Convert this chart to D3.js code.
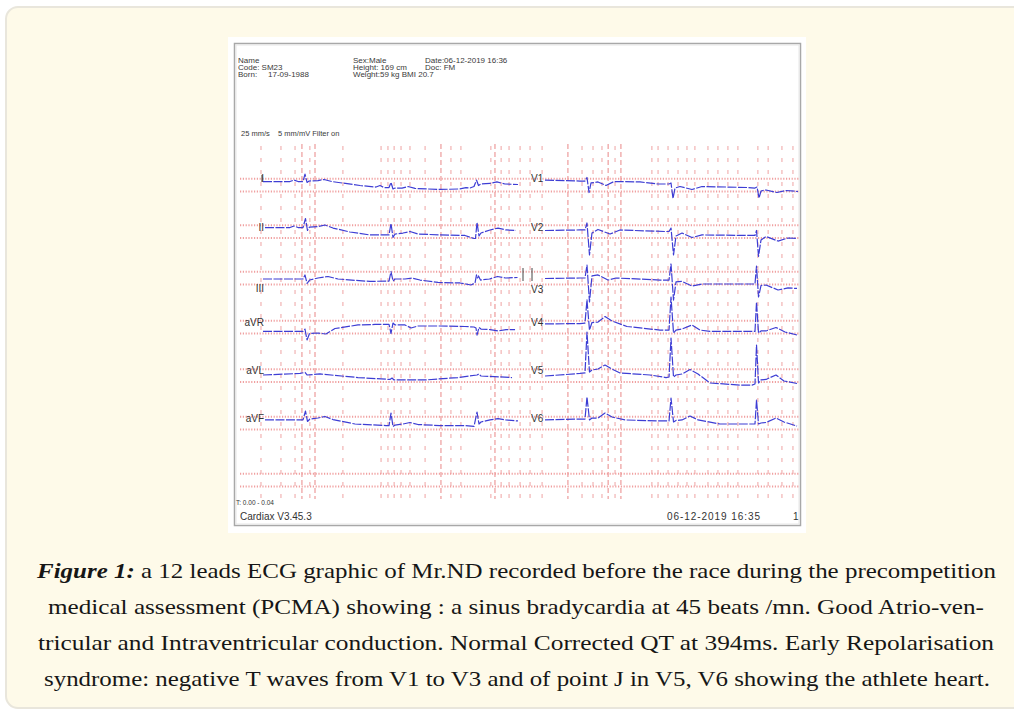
<!DOCTYPE html>
<html><head><meta charset="utf-8">
<script src="https://cdn.jsdelivr.net/npm/d3@7"></script>
<style>html,body{margin:0;padding:0;background:#fff;} svg{display:block;}</style>
</head><body>
<svg id="c" width="1014" height="711"></svg>
<script>
// ================= DATA =================
const leadNames = ["I","II","III","aVR","aVL","aVF","V1","V2","V3","V4","V5","V6"];
// each lead: [time ms, amplitude mV]
const leadI = [[0,0.27],[422,0.27],[484,0.39],[547,0.27],[625,0.27],[656,0.86],[688,0.20],[719,0.31],[859,0.35],[953,0.43],[1078,0.27],[1516,-0.04],[1766,-0.16],[1828,-0.04],[1891,-0.20],[1969,-0.20],[2000,0.20],[2031,-0.31],[2063,-0.24],[2172,-0.24],[2266,-0.12],[2375,-0.27],[2766,-0.35],[3078,-0.31],[3172,-0.20],[3234,-0.24],[3297,-0.12],[3336,0.39],[3367,-0.04],[3406,0.08],[3547,0.12],[3656,0.24],[3781,0.08],[3984,0.04]];
const leadII = [[31,0.31],[422,0.31],[484,0.43],[547,0.31],[625,0.31],[664,1.02],[695,0.08],[727,0.35],[859,0.39],[969,0.51],[1094,0.27],[1359,-0.04],[1672,-0.27],[1922,-0.27],[1969,-0.27],[2000,0.63],[2031,-0.47],[2063,-0.20],[2188,-0.12],[2297,0],[2422,-0.20],[2766,-0.27],[3156,-0.31],[3297,-0.55],[3320,-0.55],[3344,0.71],[3375,-0.35],[3406,-0.12],[3547,0.12],[3672,0.27],[3797,0.12],[3953,0.08]];
const leadIII = [[0,-0.08],[422,-0.08],[625,-0.08],[656,0.24],[688,-0.43],[727,-0.16],[859,0],[1016,0.12],[1172,-0.08],[1672,-0.27],[1922,-0.24],[1969,-0.24],[2000,0.51],[2031,-0.24],[2063,-0.08],[2219,-0.08],[2328,0],[2453,-0.16],[2734,-0.35],[3078,-0.39],[3250,-0.55],[3313,-0.39],[3336,0.24],[3352,0],[3367,0.16],[3398,-0.16],[3539,-0.08],[3664,0.12],[3789,0],[3977,0.04]];
const leadAVR = [[0,-0.35],[422,-0.35],[625,-0.35],[656,-0.16],[688,-1.02],[727,-0.51],[859,-0.47],[984,-0.55],[1125,-0.12],[1484,0.16],[1750,0.20],[1938,0.20],[1969,0.20],[2000,-0.51],[2031,0.31],[2063,0.16],[2219,0.16],[2313,-0.08],[2422,0.08],[2766,0.08],[3156,0.04],[3297,0],[3328,-0.08],[3344,-0.63],[3375,-0.04],[3406,-0.16],[3547,-0.20],[3672,-0.31],[3797,-0.20],[3938,-0.20]];
const leadAVL = [[0,0.04],[578,0.16],[656,0.24],[688,0.04],[891,0.12],[1484,-0.16],[1984,-0.31],[2016,-0.20],[2047,-0.35],[2531,-0.35],[3047,-0.16],[3344,0.04],[3375,0.12],[3406,-0.04],[3891,-0.16]];
const leadAVF = [[31,0.24],[422,0.24],[625,0.24],[664,0.94],[695,0.12],[734,0.31],[859,0.39],[969,0.51],[1094,0.27],[1438,-0.08],[1922,-0.20],[1969,-0.20],[2000,0.78],[2031,-0.27],[2063,-0.16],[2188,-0.08],[2297,0.04],[2422,-0.12],[2766,-0.20],[3156,-0.20],[3297,-0.27],[3344,0.86],[3375,-0.08],[3406,0.08],[3547,0.24],[3672,0.35],[3797,0.24],[3984,0.16]];
const leadV1 = [[0,0.39],[547,0.31],[625,0.31],[656,0.59],[688,-0.59],[719,0.16],[828,0.24],[953,-0.04],[1078,0.27],[1484,0.24],[1766,0.08],[1938,0.08],[1969,0.16],[2000,-1.06],[2031,-0.24],[2109,-0.12],[2297,-0.35],[2453,-0.12],[2859,-0.16],[3172,-0.20],[3281,-0.24],[3313,-0.16],[3344,-1.02],[3375,-0.47],[3453,-0.39],[3625,-0.59],[3766,-0.43],[3953,-0.51]];
const leadV2 = [[0,0.08],[547,0.12],[625,0.12],[656,0.67],[695,-1.84],[734,-0.12],[828,0.16],[1016,-0.20],[1172,0.12],[1875,0],[1938,0],[1969,0.27],[2008,-1.84],[2047,-0.35],[2141,-0.12],[2297,-0.47],[2453,-0.27],[3234,-0.31],[3281,-0.31],[3305,0.08],[3336,-1.96],[3375,-0.67],[3453,-0.39],[3641,-0.75],[3797,-0.51],[3938,-0.55]];
const leadV3 = [[0,-0.04],[547,0],[625,0],[656,1.02],[695,-1.88],[734,0.16],[828,0.24],[984,-0.16],[1109,0],[1797,-0.16],[1938,-0.16],[1969,1.10],[2008,-1.73],[2047,-0.31],[2141,-0.27],[2297,-0.63],[2453,-0.47],[3234,-0.47],[3281,-0.47],[3305,0.94],[3336,-1.49],[3375,-0.59],[3453,-0.55],[3641,-0.94],[3797,-0.78],[3938,-0.82]];
const leadV4 = [[0,0.24],[547,0.27],[625,0.31],[656,2.12],[695,-0.24],[734,0.35],[828,0.39],[938,0.82],[1047,0.47],[1281,0.04],[1797,-0.24],[1938,-0.24],[1969,2.35],[2008,-0.47],[2047,-0.24],[2141,-0.16],[2297,0.16],[2422,-0.24],[2578,-0.35],[3234,-0.35],[3281,-0.35],[3305,1.96],[3336,-0.47],[3375,-0.31],[3453,-0.31],[3609,-0.04],[3750,-0.39],[3938,-0.63]];
const leadV5 = [[0,-0.04],[547,0.16],[625,0.20],[656,3.41],[695,0.27],[734,0.43],[828,0.51],[938,0.82],[1047,0.51],[1172,0.20],[1641,0.04],[1891,-0.16],[1938,-0.12],[1969,2.94],[2008,-0.12],[2047,0.04],[2141,0.12],[2266,0.47],[2391,0.12],[2578,-0.59],[3047,-0.75],[3234,-0.75],[3281,-0.67],[3305,2.39],[3336,-0.59],[3375,-0.35],[3453,-0.31],[3609,0.04],[3734,-0.43],[3938,-0.63]];
const leadV6 = [[0,0.24],[547,0.31],[625,0.31],[656,2.04],[695,0.24],[734,0.39],[828,0.39],[938,0.78],[1047,0.47],[1250,0.24],[1797,0.16],[1938,0.16],[1969,1.96],[2008,0.08],[2047,0.20],[2141,0.24],[2266,0.55],[2391,0.24],[2734,-0.08],[3234,-0.08],[3281,-0.08],[3305,1.80],[3336,-0.08],[3375,0],[3453,0.04],[3609,0.39],[3734,0.08],[3938,-0.24]];
const leadData = [leadI,leadII,leadIII,leadAVR,leadAVL,leadAVF,leadV1,leadV2,leadV3,leadV4,leadV5,leadV6];

// paper grid (mm from grid left edge)
const gridWeakMM = [8.2,16.0,21.5,27.3,40.2,55.1,57.8,60.2,62.9,66.4,72.3,82.4,86.3,98.0,102.0,105.1,109.4,113.3,118.0,133.6,137.9,141.4,146.5,160.9,163.3,167.2,171.1,174.6,177.7,182.8,186.7,190.6,194.5,202.3,206.3,211.7,216.0];
const gridStrongMM = [24.2,29.3,78.5,99.6,128.1,143.8,148.8];
const gridRowOffsetsMV = [-0.5, 0.5];

const headerCol1 = ["Name","Code: SM23","Born:"];
const headerCol2 = ["Sex:Male","Height: 169 cm","Weight:59 kg BMI  20.7"];
const headerCol3 = ["Date:06-12-2019 16:36","Doc: FM"];
const bornDate = "17-09-1988";
const speedText = "25 mm/s    5 mm/mV Filter on";
const footerSmall = "T: 0.00 - 0.04";
const footerLeft = "Cardiax V3.45.3";
const footerDate = "06-12-2019 16:35";
const footerPage = "1";

const captionLines = [
  [["Figure 1:", true], [" a 12 leads ECG graphic of Mr.ND recorded before the race during the precompetition", false]],
  [["medical assessment (PCMA) showing : a sinus bradycardia at 45 beats /mn. Good Atrio-ven-", false]],
  [["tricular and Intraventricular conduction. Normal Corrected QT at 394ms. Early Repolarisation", false]],
  [["syndrome: negative T waves from V1 to V3 and of point J in V5, V6 showing the athlete heart.", false]]
];

// ================= LAYOUT =================
const rowRefs = [185, 231.5, 278, 327, 375.5, 423, 480];
const colStarts = [263, 545];
const pxPerSec = 64, pxPerMV = 12.75;
const labelDy = [-3,-1,14,-1,-2,-1.5,-3,-1,15,-1,-2,-1.5];
const captionBox = [[37,996,578],[48,984,614],[38,994,650],[44,990,686]];

const svg = d3.select("#c");

// panel
svg.append("rect").attr("x",6).attr("y",7).attr("width",1040).attr("height",701)
  .attr("rx",12).attr("fill","#fefae9").attr("stroke","#e9e6dc").attr("stroke-width",2);

// ECG paper
svg.append("rect").attr("x",228).attr("y",37).attr("width",578).attr("height",496).attr("fill","#ffffff");
svg.append("rect").attr("x",234.5).attr("y",43.5).attr("width",566).attr("height",482)
  .attr("fill","none").attr("stroke","#a8a8a8").attr("stroke-width",1.5);
svg.append("rect").attr("x",236).attr("y",45).attr("width",563).attr("height",479)
  .attr("fill","none").attr("stroke","#e6e6e6").attr("stroke-width",1);

const paperX = d3.scaleLinear().domain([0,220]).range([240, 240+220*2.56]);
const grid = svg.append("g");
grid.selectAll("line.vw").data(gridWeakMM).join("line").attr("class","vw")
  .attr("x1",d=>paperX(d)).attr("x2",d=>paperX(d)).attr("y1",146).attr("y2",499)
  .attr("stroke","#ec8d8d").attr("stroke-width",1).attr("stroke-dasharray","4,8").attr("opacity",0.8);
grid.selectAll("line.vs").data(gridStrongMM).join("line").attr("class","vs")
  .attr("x1",d=>paperX(d)).attr("x2",d=>paperX(d)).attr("y1",144).attr("y2",499)
  .attr("stroke","#e56b6b").attr("stroke-width",1).attr("stroke-dasharray","5,3").attr("opacity",0.8);
const hLines = [];
rowRefs.forEach(r => gridRowOffsetsMV.forEach(o => hLines.push(r - o*pxPerMV)));
grid.selectAll("line.h").data(hLines).join("line").attr("class","h")
  .attr("x1",240).attr("x2",800).attr("y1",d=>d).attr("y2",d=>d)
  .attr("stroke","#f0a0a0").attr("stroke-width",2).attr("stroke-dasharray","1.2,1.6");

// header text
const hdr = svg.append("g").attr("font-family","Liberation Sans, Arial, sans-serif").attr("font-size",8).attr("fill","#3a3a3a");
[[headerCol1,238],[headerCol2,353],[headerCol3,425]].forEach(([arr,x]) => {
  hdr.selectAll(null).data(arr).join("text").attr("x",x).attr("y",(d,i)=>63+i*7).text(d=>d);
});
hdr.append("text").attr("x",268).attr("y",77).text(bornDate);
hdr.append("text").attr("x",241).attr("y",136).attr("font-size",7.5).style("white-space","pre").text(speedText);

// footer text
const ft = svg.append("g").attr("font-family","Liberation Sans, Arial, sans-serif").attr("fill","#333");
ft.append("text").attr("x",236).attr("y",505).attr("font-size",6.5).text(footerSmall);
ft.append("text").attr("x",240).attr("y",520).attr("font-size",10).text(footerLeft);
ft.append("text").attr("x",667).attr("y",520).attr("font-size",10).attr("textLength",93).text(footerDate);
ft.append("text").attr("x",793).attr("y",520).attr("font-size",10).text(footerPage);

// calibration marks
const cal = svg.append("g").attr("stroke","#444").attr("stroke-width",1);
[[523,268,281],[532,268,281],[262,175,182]].forEach(c=>{
  cal.append("line").attr("x1",c[0]).attr("x2",c[0]).attr("y1",c[1]).attr("y2",c[2]);
});

// leads
const traces = svg.append("g");
leadNames.forEach((name,i) => {
  const col = i < 6 ? 0 : 1, row = i % 6;
  const x = d3.scaleLinear().domain([0,4000]).range([colStarts[col], colStarts[col] + 4*pxPerSec]);
  const y = d3.scaleLinear().domain([0,1]).range([rowRefs[row], rowRefs[row]-pxPerMV]);
  const line = d3.line().x(d=>x(d[0])).y(d=>y(d[1]));
  traces.append("path").attr("d", line(leadData[i])).attr("fill","none")
    .attr("stroke","#3d3dd4").attr("stroke-width",1.2).attr("stroke-linejoin","round")
    .attr("stroke-dasharray","9,1.5");
  const t = traces.append("text").attr("font-family","Liberation Sans, Arial, sans-serif")
    .attr("font-size",10).attr("fill","#333").attr("y", rowRefs[row] + labelDy[i]).text(name);
  if (col === 0) t.attr("x",264).attr("text-anchor","end");
  else t.attr("x",531);
});

// caption
const cap = svg.append("g").attr("font-family","Liberation Serif, Times New Roman, serif").attr("font-size",22).attr("fill","#161616");
captionLines.forEach((parts,i) => {
  const [x0,x1,yb] = captionBox[i];
  const t = cap.append("text").attr("x",x0).attr("y",yb).attr("textLength",x1-x0).attr("lengthAdjust","spacingAndGlyphs");
  parts.forEach(([s,b]) => {
    const ts = t.append("tspan").text(s);
    if (b) ts.attr("font-weight","bold").attr("font-style","italic");
  });
});
</script>
</body></html>
